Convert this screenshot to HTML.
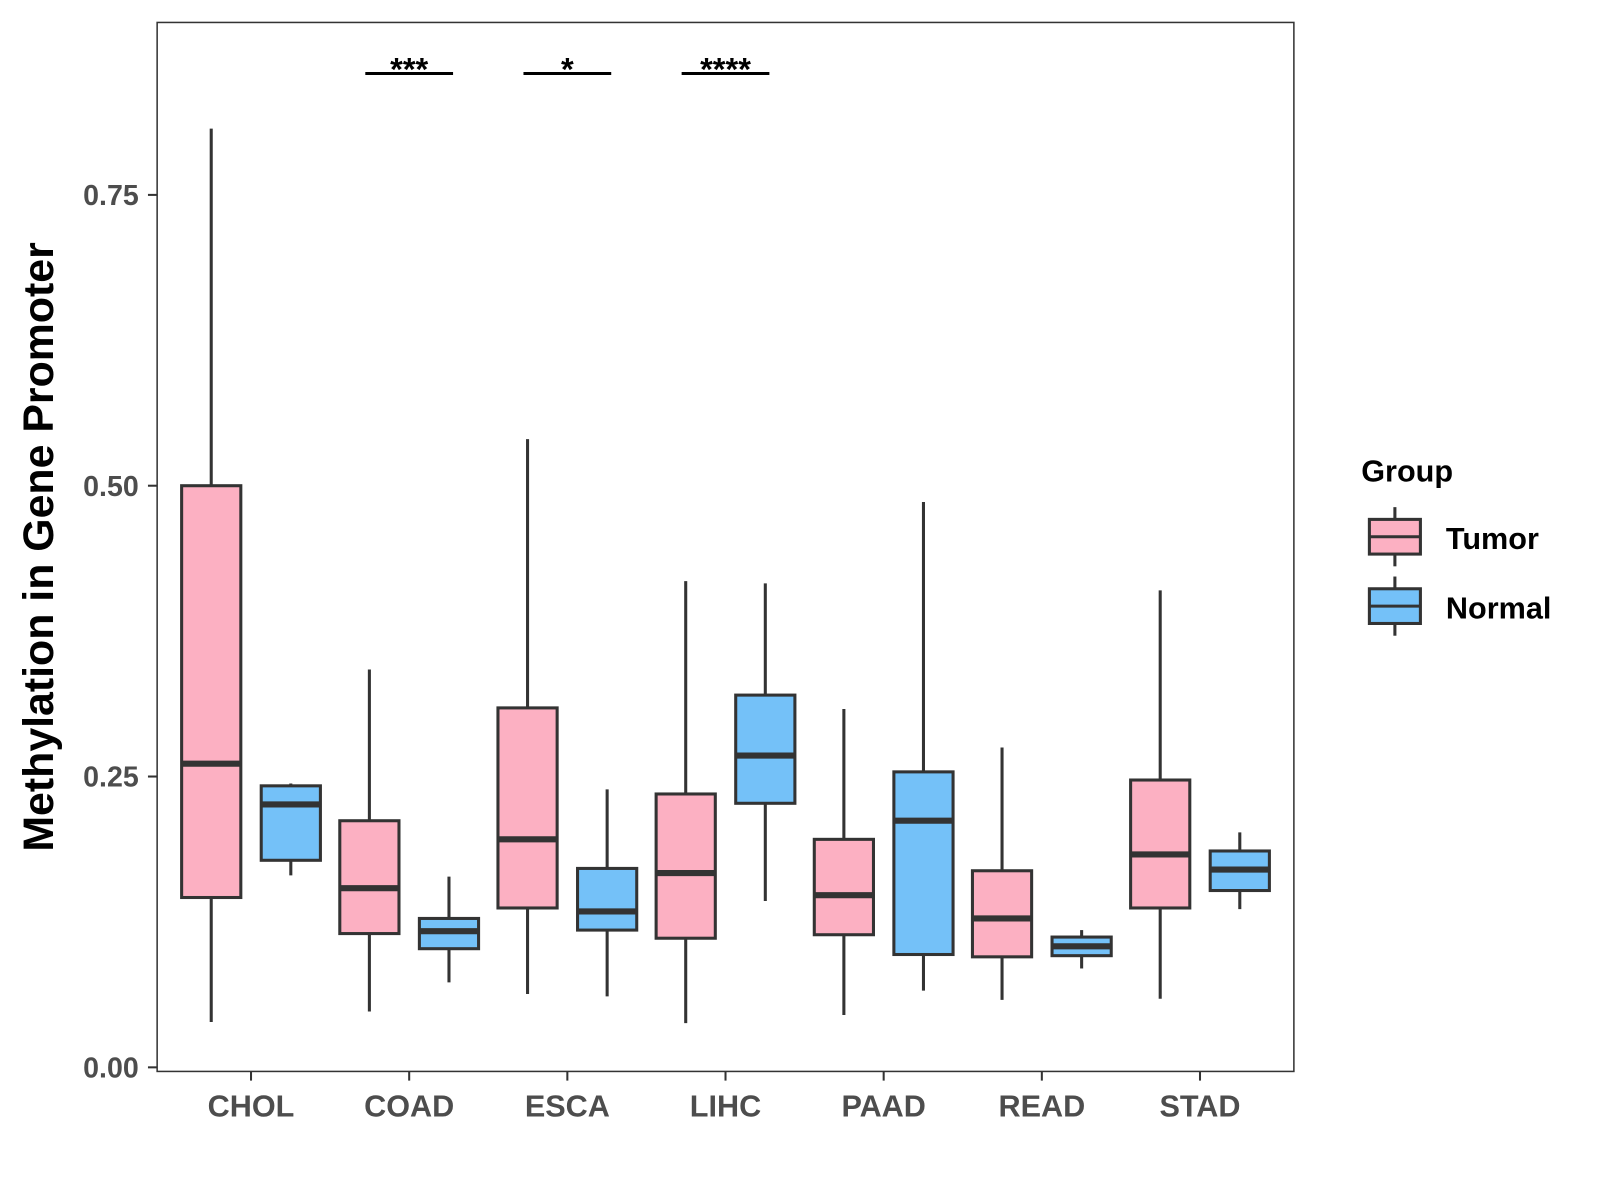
<!DOCTYPE html>
<html><head><meta charset="utf-8"><style>
html,body{margin:0;padding:0;background:#fff}
svg{display:block;font-family:"Liberation Sans",Arial,sans-serif}
</style></head><body>
<svg id="chart" width="1600" height="1200" viewBox="0 0 1568 1176" preserveAspectRatio="none" xmlns="http://www.w3.org/2000/svg">
<rect x="0" y="0" width="1568" height="1176" fill="#fff"/>
<g id="marks"></g>
<rect x="154" y="22" width="1114" height="1028" fill="none" stroke="#333" stroke-width="1.5"/>
<g id="axes"></g>
<text transform="translate(52,536) rotate(-90)" text-anchor="middle" font-size="42" font-weight="bold" fill="#000">Methylation in Gene Promoter</text>
<g>
<text x="1334" y="472" font-size="30" font-weight="bold">Group</text>
<g>
<line x1="1367" y1="497" x2="1367" y2="555" stroke="#333" stroke-width="3"/>
<rect x="1342" y="509" width="50" height="34" fill="#FCB0C2" stroke="#333" stroke-width="3"/>
<line x1="1342" y1="526" x2="1392" y2="526" stroke="#333" stroke-width="3"/>
<text x="1417" y="538" font-size="30" font-weight="bold">Tumor</text>
</g>
<g>
<line x1="1367" y1="565" x2="1367" y2="623" stroke="#333" stroke-width="3"/>
<rect x="1342" y="577" width="50" height="34" fill="#74C1F8" stroke="#333" stroke-width="3"/>
<line x1="1342" y1="594" x2="1392" y2="594" stroke="#333" stroke-width="3"/>
<text x="1417" y="606" font-size="30" font-weight="bold">Normal</text>
</g>
</g>
</svg>
<script>
const categories = ["CHOL","COAD","ESCA","LIHC","PAAD","READ","STAD"];
// [upper whisker, q3, median, q1, lower whisker]
const tumorStats = [
 [0.807,0.500,0.261,0.146,0.039],
 [0.342,0.212,0.154,0.115,0.048],
 [0.540,0.309,0.196,0.137,0.063],
 [0.418,0.235,0.167,0.111,0.038],
 [0.308,0.196,0.148,0.114,0.045],
 [0.275,0.169,0.128,0.095,0.058],
 [0.410,0.247,0.183,0.137,0.059]
];
const normalStats = [
 [0.244,0.242,0.226,0.178,0.165],
 [0.164,0.128,0.117,0.102,0.073],
 [0.239,0.171,0.134,0.118,0.061],
 [0.416,0.320,0.268,0.227,0.143],
 [0.486,0.254,0.212,0.097,0.066],
 [0.118,0.112,0.104,0.096,0.085],
 [0.202,0.186,0.170,0.152,0.136]
];
const yTicks = [0, 0.25, 0.5, 0.75];
const yTickLabels = ["0.00","0.25","0.50","0.75"];
const sigCategories = ["COAD","ESCA","LIHC"];
const sigLabels = ["***","*","****"];

const NS="http://www.w3.org/2000/svg";
function y(v){return 1046-1140*v;}
function x(i){return 246+155*i;}
function mk(tag,attrs,parent){const e=document.createElementNS(NS,tag);for(const k in attrs)e.setAttribute(k,attrs[k]);parent.appendChild(e);return e;}
const marks=document.getElementById('marks');
const axes=document.getElementById('axes');
function drawBox(cx,s,fill,name){
  const g=mk('g',{},marks);
  
  
  mk('line',{x1:cx,x2:cx,y1:y(s[0]),y2:y(s[4]),stroke:'#333','stroke-width':3},g);
  mk('rect',{x:cx-29,width:58,y:y(s[1]),height:y(s[3])-y(s[1]),fill:fill,stroke:'#333','stroke-width':3},g);
  mk('line',{x1:cx-29,x2:cx+29,y1:y(s[2]),y2:y(s[2]),stroke:'#333','stroke-width':6},g);
}
categories.forEach((c,i)=>{
  drawBox(x(i)-39,tumorStats[i],'#FCB0C2','box-tumor-'+c.toLowerCase());
  drawBox(x(i)+39,normalStats[i],'#74C1F8','box-normal-'+c.toLowerCase());
  mk('line',{x1:x(i),x2:x(i),y1:1050,y2:1059,stroke:'#333','stroke-width':2},axes);
  const l=mk('text',{x:x(i),y:1094,'text-anchor':'middle','font-size':30,'font-weight':'bold',fill:'#4d4d4d'},axes);
  l.textContent=c;
  
  
});
yTicks.forEach((v,i)=>{
  mk('line',{x1:145,x2:154,y1:y(v),y2:y(v),stroke:'#333','stroke-width':2},axes);
  const l=mk('text',{x:136,y:y(v)+10,'text-anchor':'end','font-size':28,'font-weight':'bold',fill:'#4d4d4d'},axes);
  l.textContent=yTickLabels[i];
  
  
});
sigCategories.forEach((c,k)=>{
  const i=categories.indexOf(c);
  const g=mk('g',{},marks);
  
  
  mk('line',{x1:x(i)-43,x2:x(i)+43,y1:72,y2:72,stroke:'#000','stroke-width':3},g);
  const t=mk('text',{x:x(i),y:79,'text-anchor':'middle','font-size':32,'font-weight':'bold',fill:'#000'},g);
  t.textContent=sigLabels[k];
});
</script>
</body></html>
